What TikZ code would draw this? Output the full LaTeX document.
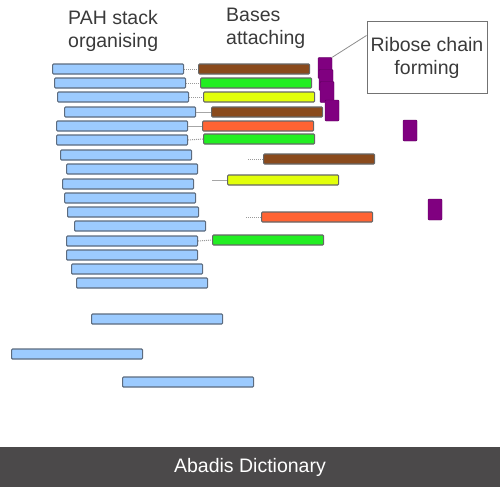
\documentclass[tikz,border=0pt]{standalone}
\usepackage{fontspec}
\setmainfont{Liberation Sans}
\usetikzlibrary{positioning}
\definecolor{pahblue}{HTML}{9CCBFF}
\definecolor{pahedge}{HTML}{5C6B7E}
\definecolor{bbrown}{HTML}{8A4A1C}
\definecolor{bgreen}{HTML}{22EE22}
\definecolor{byellow}{HTML}{E2FF0A}
\definecolor{borange}{HTML}{FF6333}
\definecolor{sugar}{HTML}{800080}
\definecolor{labelgrey}{HTML}{3A3A3A}
\definecolor{footgrey}{HTML}{4B494A}
\tikzset{
	pah/.style={draw=pahedge,fill=pahblue,line width=1.2pt,rounded corners=1pt,
		minimum width=131pt,minimum height=10pt,inner sep=0pt,anchor=west},
	basebar/.style={draw=black!60,line width=1.2pt,rounded corners=1pt,
		minimum width=111pt,minimum height=10pt,inner sep=0pt,anchor=west},
	sugarbox/.style={draw=sugar!70!black,fill=sugar,rounded corners=1pt,
		minimum width=14pt,minimum height=21pt,inner sep=0pt},
	dotlink/.style={draw=black!40,densely dotted,line width=1pt},
	link/.style={draw=black!35,line width=1pt},
	title/.style={text=labelgrey,align=left,inner sep=0pt,
		font=\fontsize{19.5}{23}\selectfont}
}
\begin{document}
\begin{tikzpicture}[x=1pt,y=-1pt]
		\useasboundingbox (0,0) rectangle (500,487);

		% PAH stack
		\foreach \x/\y [count=\i] in {52/69,54/83,57/97,64/112,56/126,56/140,60/155,66/169,
			62/184,64/198,67/212,74/226,66/241,66/255,71/269,76/283,91/319,11/354,122/382}
			\node[pah] (pah\i) at (\x,\y) {};

		% bases
		\foreach \x/\y/\c [count=\i] in {198/69/bbrown,200/83/bgreen,203/97/byellow,211/112/bbrown,
			202/126/borange,203/139/bgreen,263/159/bbrown,227/180/byellow,261/217/borange,212/240/bgreen}
			\node[basebar,fill=\c] (base\i) at (\x,\y) {};

		\draw[dotlink] (pah1.east) -- (base1.west);
		\draw[dotlink] (pah2.east) -- (base2.west);
		\draw[dotlink] (pah3.east) -- (base3.west);
		\draw[link] (pah4.east) -- (base4.west);
		\draw[link] (pah5.east) -- (base5.west);
		\draw[dotlink] (pah6.east) -- (base6.west);
		\coordinate (free7) at (248,159);
		\coordinate (free8) at (212,180);
		\coordinate (free9) at (246,217);
		\draw[dotlink] (free7) -- (base7.west);
		\draw[link] (free8) -- (base8.west);
		\draw[dotlink] (free9) -- (base9.west);
		\draw[dotlink] (pah13.east) -- (base10.west);

		% ribose
		\node[sugarbox] (s1) at (325,68) {};
		\node[sugarbox] (s2) at (326,80) {};
		\node[sugarbox] (s3) at (327,92) {};
		\node[sugarbox] (s4) at (332,110.5) {};
		\node[sugarbox] (s5) at (410,130.5) {};
		\node[sugarbox] (s6) at (435,209.5) {};

		\node[draw=black!55,line width=1pt,minimum width=120pt,minimum height=71pt,
			title,align=center] (rib) at (427,57.5) {Ribose chain\\forming};
		\draw[draw=black!45,line width=0.8pt] (rib.160) -- (s1.north east);

		\node[title,anchor=north west] (pahlbl) at (68,10) {PAH stack\\organising};
		\node[title,anchor=north west] (baselbl) at (226,8) {Bases\\attaching};

		% footer
		\fill[footgrey] (0,447) rectangle (500,487);
		\node[title,text=white] (foot) at (250,467) {Abadis Dictionary};
	\end{tikzpicture}
\end{document}
